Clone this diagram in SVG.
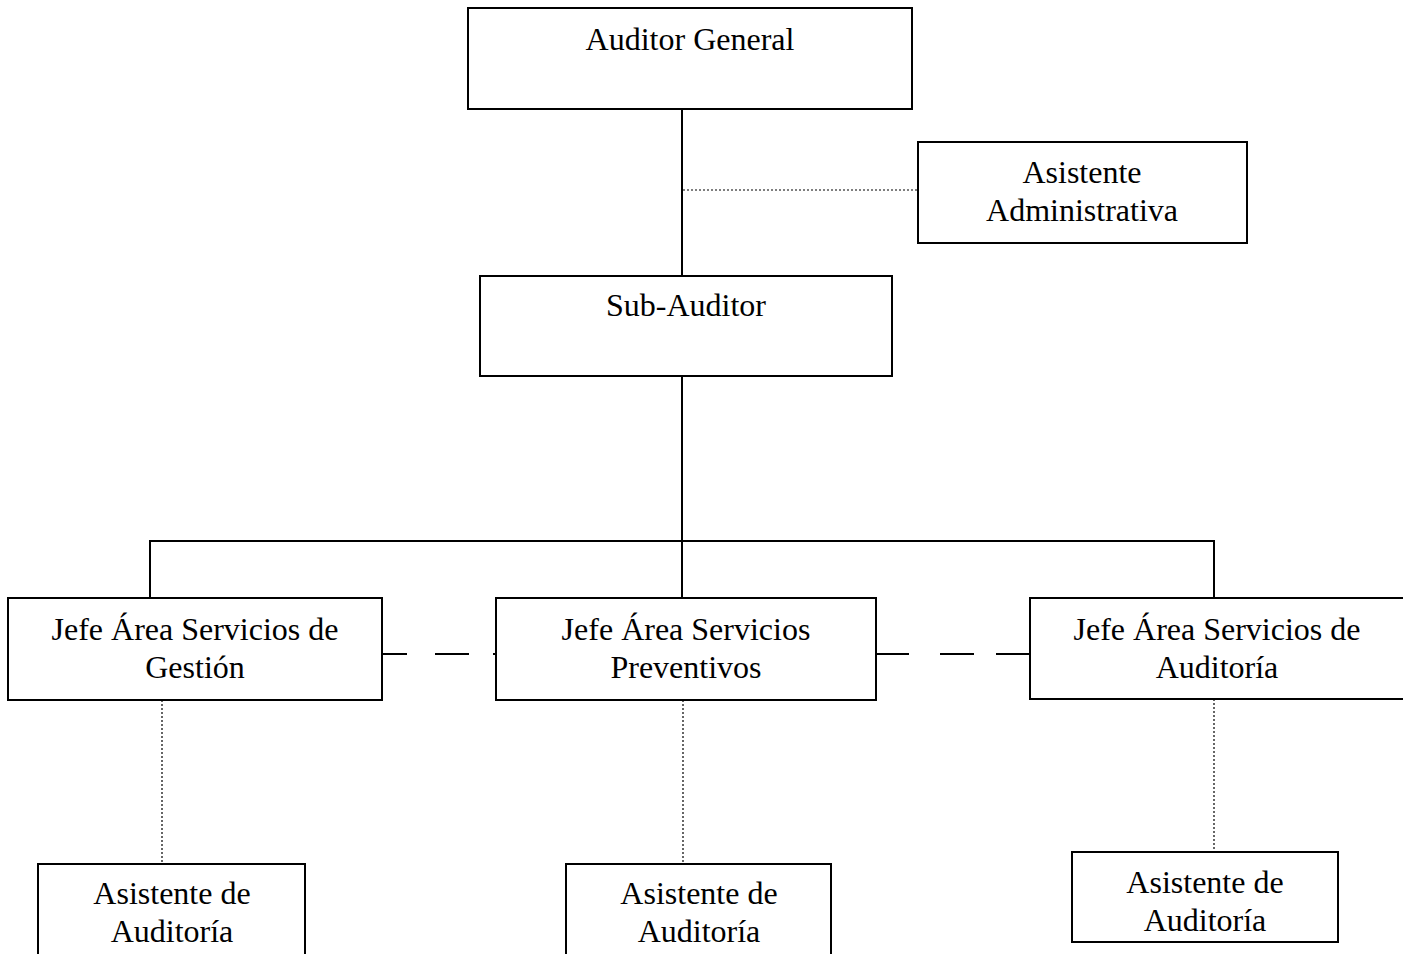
<svg xmlns="http://www.w3.org/2000/svg" width="1403" height="954" viewBox="0 0 1403 954">
<style>
.box{fill:#fff;stroke:#000;stroke-width:2}
.t{font-family:"Liberation Serif","Times New Roman",serif;font-size:32px;fill:#000;text-anchor:middle}
.solid{stroke:#000;stroke-width:2;fill:none}
.dot{stroke:#000;stroke-width:1.2;stroke-dasharray:2 2;fill:none}
.dash{stroke:#000;stroke-width:2;fill:none}
</style>
<rect width="1403" height="954" fill="#fff"/>
<g id="connectors">
<line class="solid" x1="682" y1="109" x2="682" y2="276"/>
<line class="dot" x1="683" y1="190" x2="918" y2="190"/>
<line class="solid" x1="682" y1="376" x2="682" y2="598"/>
<line class="solid" x1="150" y1="541" x2="1214" y2="541"/>
<line class="solid" x1="150" y1="540" x2="150" y2="598"/>
<line class="solid" x1="1214" y1="540" x2="1214" y2="598"/>
<line class="dash" x1="382" y1="654" x2="496" y2="654" stroke-dasharray="25 28 34 24 10"/>
<line class="dash" x1="876" y1="654" x2="1030" y2="654" stroke-dasharray="33 31 34 22 40"/>
<line class="dot" x1="162" y1="700" x2="162" y2="864"/>
<line class="dot" x1="683" y1="700" x2="683" y2="864"/>
<line class="dot" x1="1214" y1="699" x2="1214" y2="852"/>
</g>
<g id="auditor-general">
<rect class="box" x="468" y="8" width="444" height="101"/>
<text class="t" x="690" y="50">Auditor General</text>
</g>
<g id="asistente-administrativa">
<rect class="box" x="918" y="142" width="329" height="101"/>
<text class="t" x="1082" y="183">Asistente</text>
<text class="t" x="1082" y="221">Administrativa</text>
</g>
<g id="sub-auditor">
<rect class="box" x="480" y="276" width="412" height="100"/>
<text class="t" x="686" y="316">Sub-Auditor</text>
</g>
<g id="jefe-gestion">
<rect class="box" x="8" y="598" width="374" height="102"/>
<text class="t" x="195" y="640">Jefe Área Servicios de</text>
<text class="t" x="195" y="678">Gestión</text>
</g>
<g id="jefe-preventivos">
<rect class="box" x="496" y="598" width="380" height="102"/>
<text class="t" x="686" y="640">Jefe Área Servicios</text>
<text class="t" x="686" y="678">Preventivos</text>
</g>
<g id="jefe-auditoria">
<rect class="box" x="1030" y="598" width="380" height="101"/>
<text class="t" x="1217" y="640">Jefe Área Servicios de</text>
<text class="t" x="1217" y="678">Auditoría</text>
</g>
<g id="asistente-auditoria-1">
<rect class="box" x="38" y="864" width="267" height="100"/>
<text class="t" x="172" y="904">Asistente de</text>
<text class="t" x="172" y="942">Auditoría</text>
</g>
<g id="asistente-auditoria-2">
<rect class="box" x="566" y="864" width="265" height="100"/>
<text class="t" x="699" y="904">Asistente de</text>
<text class="t" x="699" y="942">Auditoría</text>
</g>
<g id="asistente-auditoria-3">
<rect class="box" x="1072" y="852" width="266" height="90"/>
<text class="t" x="1205" y="893">Asistente de</text>
<text class="t" x="1205" y="931">Auditoría</text>
</g>
</svg>
